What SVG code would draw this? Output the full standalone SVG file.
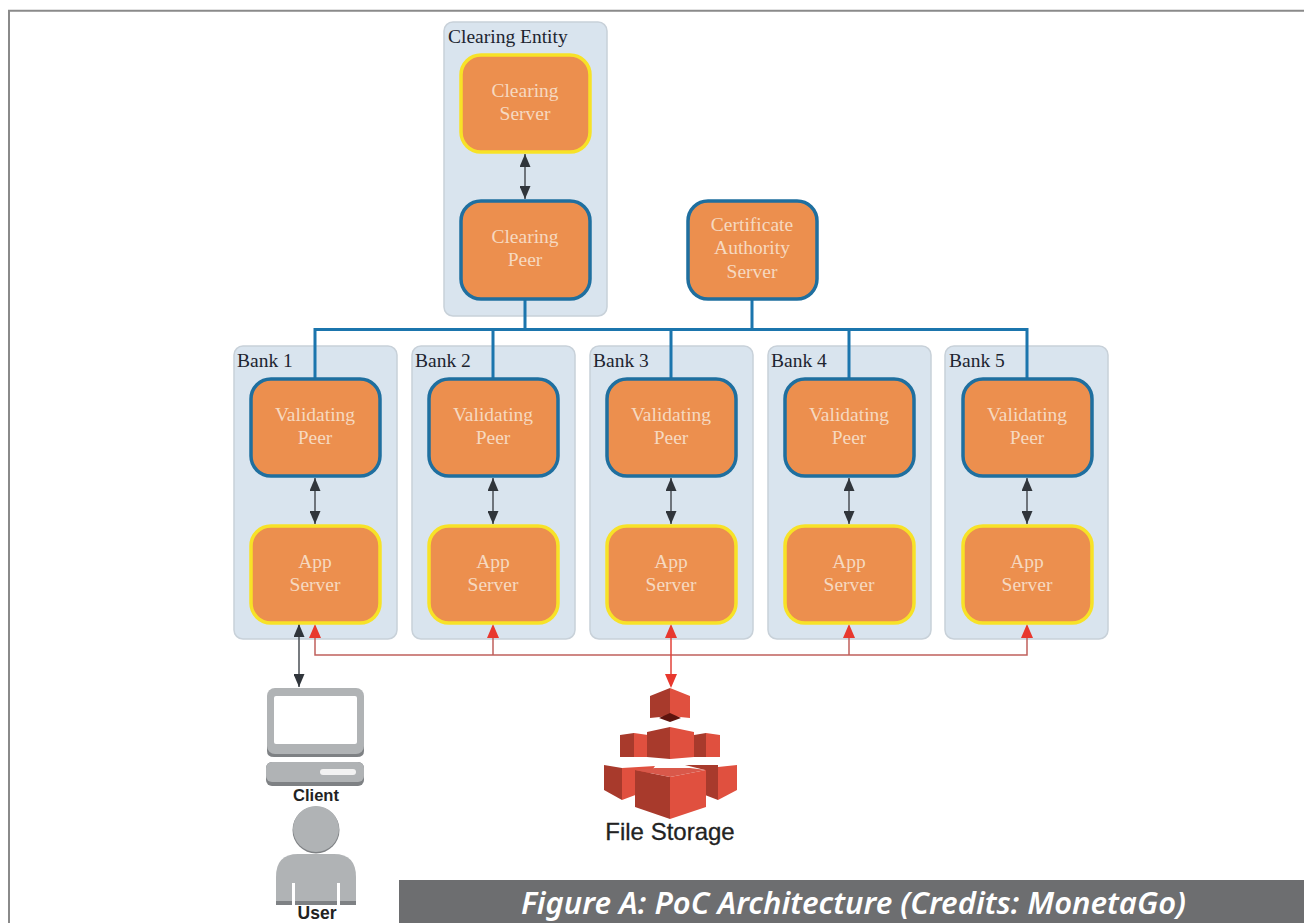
<svg xmlns="http://www.w3.org/2000/svg" width="1304" height="923" viewBox="0 0 1304 923">
<defs>
<style>
.grp{fill:#d9e4ee;stroke:#c8d1d9;stroke-width:1.5}
.lab{font:19.5px "Liberation Serif",serif;fill:#1d2530}
.n{fill:#ec8f4e;stroke-width:3.5}
.blue{stroke:#1f6f9f}
.yel{stroke:#f7e227}
.t{font:19.5px "Liberation Serif",serif;fill:#f6d9c0;text-anchor:middle}
.bus{fill:none;stroke:#1b75ad;stroke-width:3}
.dk{fill:none;stroke:#4a4f55;stroke-width:1.5;marker-start:url(#ks);marker-end:url(#ke)}
.rd{fill:none;stroke:#c0605c;stroke-width:1.5}
.rh{fill:#e8382e}
.gr{fill:#b0b3b5}
.grd{fill:#7e8184}
.sa{font:700 16.500px "Liberation Sans",sans-serif;fill:#222;text-anchor:middle}
.cd{fill:#a83a2c}
.cl{fill:#e0503f}
</style>
<marker id="ke" viewBox="0 0 13 11" refX="13" refY="5.500" markerUnits="userSpaceOnUse" markerWidth="13" markerHeight="11" orient="auto"><path d="M0 0L13 5.500L0 11Z" fill="#30353b"/></marker>
<marker id="ks" viewBox="0 0 13 11" refX="0" refY="5.500" markerUnits="userSpaceOnUse" markerWidth="13" markerHeight="11" orient="auto"><path d="M13 0L0 5.500L13 11Z" fill="#30353b"/></marker>
</defs>
<rect width="1304" height="923" fill="#fff"/>
<path d="M9 923V10.800H1304" fill="none" stroke="#8a8a8a" stroke-width="2"/>

<g id="clearing-entity"><rect class="grp" x="444" y="22" width="163" height="294" rx="9"/><text class="lab" x="448" y="43">Clearing Entity</text></g>
<g id="bank-1"><rect class="grp" x="234" y="346" width="163" height="293" rx="9"/><text class="lab" x="237" y="367">Bank 1</text></g>
<g id="bank-2"><rect class="grp" x="412" y="346" width="163" height="293" rx="9"/><text class="lab" x="415" y="367">Bank 2</text></g>
<g id="bank-3"><rect class="grp" x="590" y="346" width="163" height="293" rx="9"/><text class="lab" x="593" y="367">Bank 3</text></g>
<g id="bank-4"><rect class="grp" x="768" y="346" width="163" height="293" rx="9"/><text class="lab" x="771" y="367">Bank 4</text></g>
<g id="bank-5"><rect class="grp" x="945" y="346" width="163" height="293" rx="9"/><text class="lab" x="949" y="367">Bank 5</text></g>

<g id="connectors">
<path class="bus" d="M315 378V329.500H1027V378M493 329.500V378M671 329.500V378M849 329.500V378M525 300V329.500M752 300V329.500"/>
<path class="dk" d="M525 154V199"/>
<path class="dk" d="M315 478V524"/>
<path class="dk" d="M493 478V524"/>
<path class="dk" d="M671 478V524"/>
<path class="dk" d="M849 478V524"/>
<path class="dk" d="M1027 478V524"/>
<path class="dk" d="M299 624V687"/>
<path class="rd" d="M315 636V655H1027V636M493 655V636M849 655V636"/>
<path class="rd" style="stroke:#e2423a" d="M671 636V676"/>
<path class="rh" d="M315 624l-6 14h12zM493 624l-6 14h12zM671 624l-6 14h12zM849 624l-6 14h12zM1027 624l-6 14h12zM671 688l-6 -14h12z"/>
</g>

<g id="clearing-server"><rect class="n yel" x="461" y="55" width="129" height="97" rx="20"/><text class="t" x="525" y="97">Clearing</text><text class="t" x="525" y="120">Server</text></g>
<g id="clearing-peer"><rect class="n blue" x="461" y="201" width="129" height="98" rx="20"/><text class="t" x="525" y="243">Clearing</text><text class="t" x="525" y="266">Peer</text></g>
<g id="ca-server"><rect class="n blue" x="688" y="201" width="129" height="98" rx="20"/><text class="t" x="752" y="231">Certificate</text><text class="t" x="752" y="254">Authority</text><text class="t" x="752" y="278">Server</text></g>

<g id="peer-1"><rect class="n blue" x="251" y="379" width="129" height="97" rx="20"/><text class="t" x="315" y="421">Validating</text><text class="t" x="315" y="444">Peer</text></g>
<g id="peer-2"><rect class="n blue" x="429" y="379" width="129" height="97" rx="20"/><text class="t" x="493" y="421">Validating</text><text class="t" x="493" y="444">Peer</text></g>
<g id="peer-3"><rect class="n blue" x="607" y="379" width="129" height="97" rx="20"/><text class="t" x="671" y="421">Validating</text><text class="t" x="671" y="444">Peer</text></g>
<g id="peer-4"><rect class="n blue" x="785" y="379" width="129" height="97" rx="20"/><text class="t" x="849" y="421">Validating</text><text class="t" x="849" y="444">Peer</text></g>
<g id="peer-5"><rect class="n blue" x="963" y="379" width="129" height="97" rx="20"/><text class="t" x="1027" y="421">Validating</text><text class="t" x="1027" y="444">Peer</text></g>

<g id="app-1"><rect class="n yel" x="251" y="526" width="129" height="97" rx="20"/><text class="t" x="315" y="568">App</text><text class="t" x="315" y="591">Server</text></g>
<g id="app-2"><rect class="n yel" x="429" y="526" width="129" height="97" rx="20"/><text class="t" x="493" y="568">App</text><text class="t" x="493" y="591">Server</text></g>
<g id="app-3"><rect class="n yel" x="607" y="526" width="129" height="97" rx="20"/><text class="t" x="671" y="568">App</text><text class="t" x="671" y="591">Server</text></g>
<g id="app-4"><rect class="n yel" x="785" y="526" width="129" height="97" rx="20"/><text class="t" x="849" y="568">App</text><text class="t" x="849" y="591">Server</text></g>
<g id="app-5"><rect class="n yel" x="963" y="526" width="129" height="97" rx="20"/><text class="t" x="1027" y="568">App</text><text class="t" x="1027" y="591">Server</text></g>

<g id="client">
<path class="grd" d="M267 735V751Q267 757 274 757H357Q364 757 364 751V735Z"/>
<rect class="gr" x="267" y="688" width="97" height="66" rx="8"/>
<rect x="274" y="696" width="83" height="48" rx="2" fill="#fff"/>
<rect class="grd" x="266" y="762" width="98" height="24" rx="6"/>
<rect class="gr" x="266" y="762" width="98" height="20" rx="6"/>
<rect x="320" y="769" width="36" height="6" rx="3" fill="#f2f2f2"/>
<text class="sa" x="316" y="801">Client</text>
</g>
<g id="user">
<circle class="grd" cx="316" cy="830" r="23.500"/>
<circle class="gr" cx="316" cy="829" r="23"/>
<path class="gr" d="M276 905V877Q276 854 298 854H334Q356 854 356 877V905Z"/>
<path fill="#fff" d="M292 883h3v22h-3zM337 883h3v22h-3z"/>
<path class="grd" d="M276 901h16v4h-16zM295 901h42v4h-42zM340 901h16v4h-16z"/>
<text class="sa" x="317" y="919" style="font-size:17.500px">User</text>
</g>
<g id="file-storage">
<path class="cd" d="M650 696L670 688V716L650 718Z"/><path class="cl" d="M670 688L690 696V718L670 716Z"/><path fill="#5e140e" d="M659 718L670 713L681 718L670 722Z"/>
<path class="cd" d="M620 735L634 733V757H620Z"/><path class="cl" d="M634 733L648 735V757H634Z"/>
<path class="cd" d="M694 735L706 733V757H694Z"/><path class="cl" d="M706 733L720 735V757H706Z"/>
<path class="cd" d="M647 732L670 727V759L647 757Z"/><path class="cl" d="M670 727L694 732V757L670 759Z"/>
<path class="cd" d="M604 765L622 768V800L604 790Z"/><path class="cl" d="M622 768L655 766L638 790V794L622 800Z"/>
<path class="cd" d="M685 765H718V800L705 795V770Z"/><path class="cl" d="M718 767L737 765V790L718 800Z"/>
<path class="cd" d="M635 770L670 777V819L635 807Z"/><path class="cl" d="M670 777L706 770V807L670 819Z"/><path fill="#d9584a" d="M635 770L655 768H690L706 770L670 777Z"/>
<text x="670" y="840" style="font:24px 'Liberation Sans',sans-serif;fill:#222;stroke:#222;stroke-width:.3;text-anchor:middle">File Storage</text>
</g>
<g id="caption">
<rect x="399" y="880" width="905" height="43" fill="#6d6e70"/>
<text x="853.500" y="914" style="font:italic 600 31px 'Noto Sans',sans-serif;fill:#fff;text-anchor:middle">Figure A: PoC Architecture (Credits: MonetaGo)</text>
</g>
</svg>
